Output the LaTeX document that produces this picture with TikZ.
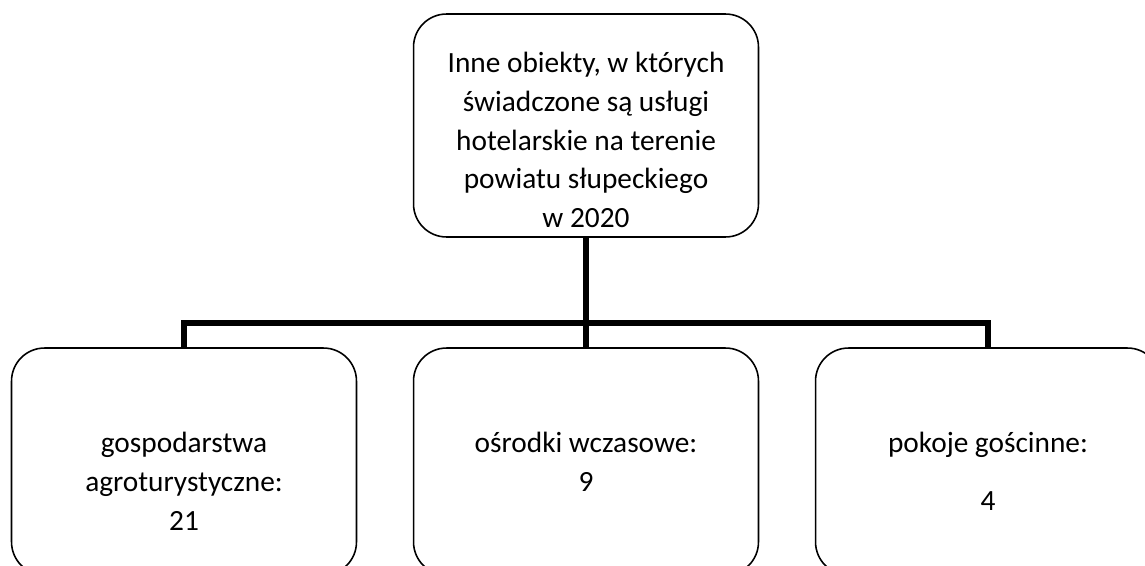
\documentclass[tikz,border=0pt]{standalone}
\usepackage{fontspec}
\setmainfont{Carlito}
\usetikzlibrary{positioning}

\begin{document}
\begin{tikzpicture}[x=0.02cm,y=-0.02cm,
    box/.style={draw,line width=0.9pt,rounded corners=0.66cm,
      minimum width=6.9cm,inner sep=0pt},
    txt/.style={align=center,inner sep=0pt,anchor=north,
      font=\fontsize{16.7}{22}\selectfont},
    conn/.style={line width=3.4pt}]

  \useasboundingbox (0,0) rectangle (1145,565);
  \clip (0,0) rectangle (1145,565);

  \node[box,minimum height=4.46cm] (top)   at (586,125.5) {};
  \node[box,minimum height=4.54cm] (left)  at (184,461.5) {};
  \node[box,minimum height=4.54cm] (mid)   at (586,461.5) {};
  \node[box,minimum height=4.54cm] (right) at (988,461.5) {};

  \node[txt] (toptxt) at (586,52) {Inne obiekty, w których\\ świadczone są usługi\\
    hotelarskie na terenie\\ powiatu słupeckiego\\ w 2020};
  \node[txt] (lefttxt)  at (184,432) {gospodarstwa\\ agroturystyczne:\\ 21};
  \node[txt] (midtxt)   at (586,432) {ośrodki wczasowe:\\ 9};
  \node[txt] (righttxt) at (988,432) {pokoje gościnne:\\[0.38cm] 4};

  \coordinate (bus) at (586,323);
  \draw[conn] (top.south) -- (bus);
  \draw[conn] (bus) -- (mid.north);
  \draw[conn] (left.north) |- (bus) -| (right.north);
\end{tikzpicture}
\end{document}
